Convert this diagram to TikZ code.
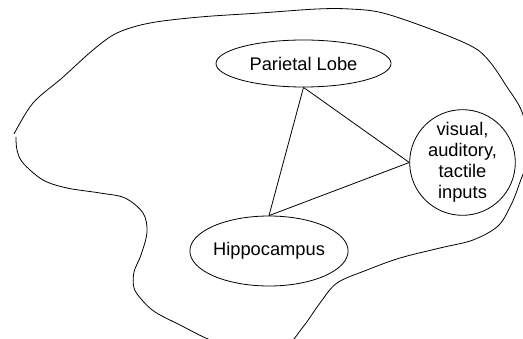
\documentclass[tikz,border=0pt]{standalone}
\usepackage{fontspec}
\setmainfont{Liberation Sans}
\usetikzlibrary{shapes.geometric}
\begin{document}
\begin{tikzpicture}[x=1pt,y=-1pt,
  ln/.style={line width=0.8pt},
  oval/.style={ellipse, draw, ln, inner sep=0pt, font=\fontsize{18.3}{22}\selectfont, align=center},
  rnd/.style={circle, draw, ln, inner sep=0pt, minimum size=102pt, font=\fontsize{18.3}{21}\selectfont, align=center}]
\useasboundingbox (0,0) rectangle (523,339);
\draw[ln] plot[smooth, tension=0.55] coordinates {
  (14,134) (33,103) (62,78) (93,50) (117,33) (150,23) (200,17) (260,13) (317,9) (350,9) (383,13)
  (433,30) (473,47) (490,62) (507,87) (522,112) (530,150) (520,182) (511,205) (498,226) (473,240)
  (440,248) (400,258) (367,270) (337,283) (320,303) (303,327) (285,346) (250,350) (213,341) (180,325)
  (155,312) (142,300) (134,288) (134,272) (141,255) (147,232) (143,213) (125,198) (100,193)
  (67,188) (43,180) (23,163) (17,150) (16,137)};
\node[oval, minimum width=175pt, minimum height=47pt] (pl) at (303.5,63.5) {Parietal Lobe};
\node[oval, minimum width=146pt, minimum height=70pt] (hc) at (269,251) {Hippocampus};
\node[rnd] (vc) at (462.5,162.5) {visual,\\auditory,\\tactile\\inputs};
\draw[ln] (pl.south) -- (hc.north);
\draw[ln] (pl.south) -- (vc.west);
\draw[ln] (hc.north) -- (vc.west);
\end{tikzpicture}
\end{document}
